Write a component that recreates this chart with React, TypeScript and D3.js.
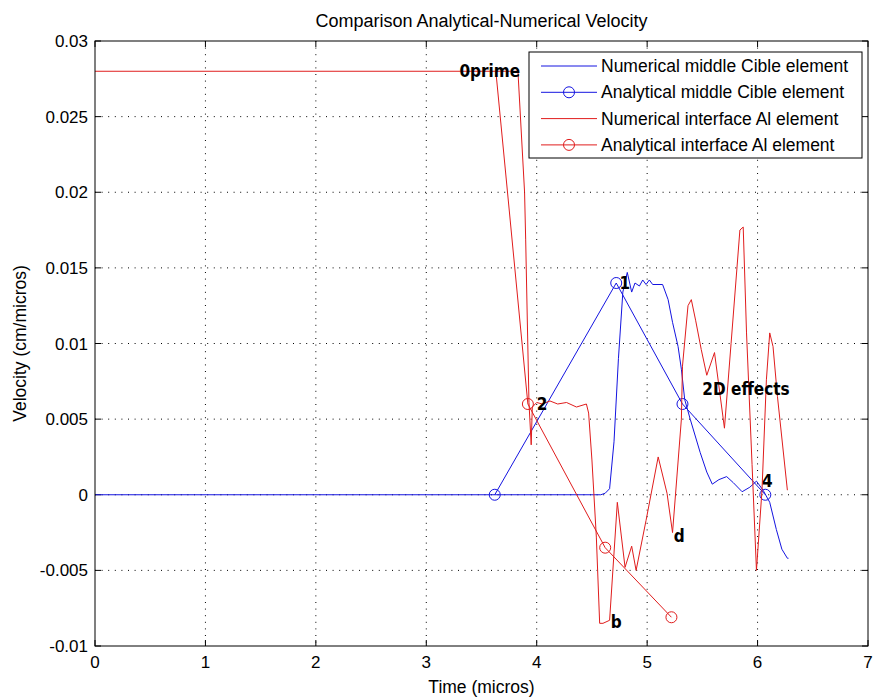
import React from "react";
import * as d3 from "d3";

// Numerical middle Cible element (blue)
const numBlueX = [0, 4.58, 4.62, 4.66, 4.70, 4.74, 4.78, 4.82, 4.86, 4.89, 4.93, 4.96, 4.99, 5.02, 5.05, 5.14, 5.19, 5.23, 5.28, 5.31, 5.34, 5.39, 5.48, 5.54, 5.59, 5.65, 5.72, 5.78, 5.86, 5.93, 5.99, 6.05, 6.11, 6.17, 6.22, 6.27, 6.28];
const numBlueY = [0, 0, 0.0001, 0.0004, 0.0035, 0.009, 0.0134, 0.0147, 0.0134, 0.014, 0.0138, 0.0142, 0.0139, 0.0142, 0.0139, 0.0139, 0.0129, 0.0114, 0.0098, 0.0083, 0.0063, 0.005, 0.0028, 0.0015, 0.0007, 0.001, 0.0012, 0.0008, 0.0002, 0.0005, 0.0009, 0.0003, -0.0005, -0.0023, -0.0036, -0.0042, -0.0042];

// Analytical middle Cible element (blue, circles)
const anaBlueX = [3.62, 4.72, 5.32, 6.07];
const anaBlueY = [0, 0.014, 0.006, 0];

// Numerical interface Al element (red)
const numRedX = [0, 3.83, 3.89, 3.90, 3.93, 3.95, 3.96, 4.0, 4.05, 4.12, 4.19, 4.27, 4.36, 4.45, 4.47, 4.50, 4.54, 4.57, 4.60, 4.66, 4.73, 4.80, 4.86, 4.90, 4.99, 5.10, 5.18, 5.23, 5.31, 5.32, 5.37, 5.40, 5.44, 5.49, 5.54, 5.61, 5.70, 5.76, 5.84, 5.87, 5.90, 5.95, 5.99, 6.04, 6.08, 6.11, 6.14, 6.18, 6.27];
const numRedY = [0.028, 0.028, 0.020, 0.0169, 0.0061, 0.0033, 0.0058, 0.0061, 0.006, 0.0062, 0.006, 0.0061, 0.0058, 0.006, 0.0054, 0.0023, -0.0028, -0.0085, -0.0085, -0.0083, -0.0005, -0.0048, -0.0034, -0.005, -0.0017, 0.0025, 0.0001, -0.0025, 0.005, 0.0085, 0.0125, 0.0129, 0.0115, 0.0096, 0.0079, 0.0094, 0.0044, 0.0100, 0.0175, 0.0177, 0.0107, 0.002, -0.005, 0.0003, 0.0076, 0.0107, 0.0098, 0.0065, 0.0003];

// Analytical interface Al element (red, circles)
const anaRedX = [3.63, 3.92, 4.62, 5.22];
const anaRedY = [0.028, 0.006, -0.0035, -0.0081];
const anaRedMarked = [false, true, true, true];

const xTicks = [0, 1, 2, 3, 4, 5, 6, 7];
const yTicks = [0.03, 0.025, 0.02, 0.015, 0.01, 0.005, 0, -0.005, -0.01];
const yTickLabels = ["0.03", "0.025", "0.02", "0.015", "0.01", "0.005", "0", "-0.005", "-0.01"];

const annotations = [
  { text: "0prime", x: 3.30, y: 0.028 },
  { text: "1", x: 4.75, y: 0.014 },
  { text: "2", x: 4.0, y: 0.006 },
  { text: "2D effects", x: 5.5, y: 0.007 },
  { text: "4", x: 6.04, y: 0.0009 },
  { text: "b", x: 4.67, y: -0.0084 },
  { text: "d", x: 5.24, y: -0.0027 },
];

const BLUE = "#1414e0";
const RED = "#e01c1c";

const legendItems = [
  { label: "Numerical middle Cible element", color: BLUE, marker: false },
  { label: "Analytical middle Cible element", color: BLUE, marker: true },
  { label: "Numerical interface Al element", color: RED, marker: false },
  { label: "Analytical interface Al element", color: RED, marker: true },
];

const W = 875, H = 699;
const left = 95, right = 868, top = 41, bottom = 646;
const font = "'Liberation Sans', Arial, sans-serif";

export default function App() {
  const x = d3.scaleLinear().domain([0, 7]).range([left, right]);
  const y = d3.scaleLinear().domain([-0.01, 0.03]).range([bottom, top]);
  const line = d3.line<[number, number]>().x(d => x(d[0])).y(d => y(d[1]));
  const zip = (xs: number[], ys: number[]) => xs.map((v, i) => [v, ys[i]] as [number, number]);

  return (
    <svg width={W} height={H} style={{ position: "absolute", left: 0, top: 0, background: "#fff" }} fontFamily={font}>
      <rect x={0} y={0} width={W} height={H} fill="#fff" />
      {/* grid */}
      {xTicks.slice(1, -1).map(t => (
        <line key={"gx" + t} x1={x(t)} x2={x(t)} y1={top} y2={bottom} stroke="#000" strokeWidth={1} strokeDasharray="1,5.6" />
      ))}
      {yTicks.slice(1, -1).map(t => (
        <line key={"gy" + t} x1={left} x2={right} y1={y(t)} y2={y(t)} stroke="#000" strokeWidth={1} strokeDasharray="1,5.6" />
      ))}
      {/* ticks */}
      {xTicks.map(t => (
        <g key={"tx" + t}>
          <line x1={x(t)} x2={x(t)} y1={bottom} y2={bottom - 6} stroke="#000" />
          <line x1={x(t)} x2={x(t)} y1={top} y2={top + 6} stroke="#000" />
          <text x={x(t)} y={bottom + 22} textAnchor="middle" fontSize={17}>{t}</text>
        </g>
      ))}
      {yTicks.map((t, i) => (
        <g key={"ty" + t}>
          <line x1={left} x2={left + 6} y1={y(t)} y2={y(t)} stroke="#000" />
          <line x1={right} x2={right - 6} y1={y(t)} y2={y(t)} stroke="#000" />
          <text x={left - 7} y={y(t) + 6} textAnchor="end" fontSize={17}>{yTickLabels[i]}</text>
        </g>
      ))}

      {/* data */}
      <path d={line(zip(numBlueX, numBlueY)) ?? ""} fill="none" stroke={BLUE} strokeWidth={1} />
      <path d={line(zip(anaBlueX, anaBlueY)) ?? ""} fill="none" stroke={BLUE} strokeWidth={1} />
      {anaBlueX.map((v, i) => (
        <circle key={"cb" + i} cx={x(v)} cy={y(anaBlueY[i])} r={5.5} fill="none" stroke={BLUE} />
      ))}
      <path d={line(zip(numRedX, numRedY)) ?? ""} fill="none" stroke={RED} strokeWidth={1} />
      <path d={line(zip(anaRedX, anaRedY)) ?? ""} fill="none" stroke={RED} strokeWidth={1} />
      {anaRedX.map((v, i) => anaRedMarked[i] ? (
        <circle key={"cr" + i} cx={x(v)} cy={y(anaRedY[i])} r={5.5} fill="none" stroke={RED} />
      ) : null)}

      {/* annotations */}
      {annotations.map(a => (
        <text key={a.text} x={x(a.x)} y={y(a.y) + 6} fontSize={17} fontWeight="bold" fontFamily="'DejaVu Sans Condensed', 'DejaVu Sans', sans-serif">{a.text}</text>
      ))}

      {/* box */}
      <rect x={left} y={top} width={right - left} height={bottom - top} fill="none" stroke="#000" strokeWidth={1} />

      {/* legend */}
      <g>
        <rect x={529} y={52} width={333} height={106} fill="#fff" stroke="#000" />
        {legendItems.map((it, i) => {
          const ly = 66 + i * 26.3;
          return (
            <g key={it.label}>
              <line x1={541} x2={597} y1={ly} y2={ly} stroke={it.color} />
              {it.marker && <circle cx={569} cy={ly} r={5.5} fill="none" stroke={it.color} />}
              <text x={601} y={ly + 6} fontSize={17.5}>{it.label}</text>
            </g>
          );
        })}
      </g>

      {/* labels */}
      <text x={(left + right) / 2} y={27} textAnchor="middle" fontSize={18}>Comparison Analytical-Numerical Velocity</text>
      <text x={(left + right) / 2} y={693} textAnchor="middle" fontSize={17.5}>Time (micros)</text>
      <text transform={`translate(26,${(top + bottom) / 2}) rotate(-90)`} textAnchor="middle" fontSize={17.5}>Velocity (cm/micros)</text>
    </svg>
  );
}
